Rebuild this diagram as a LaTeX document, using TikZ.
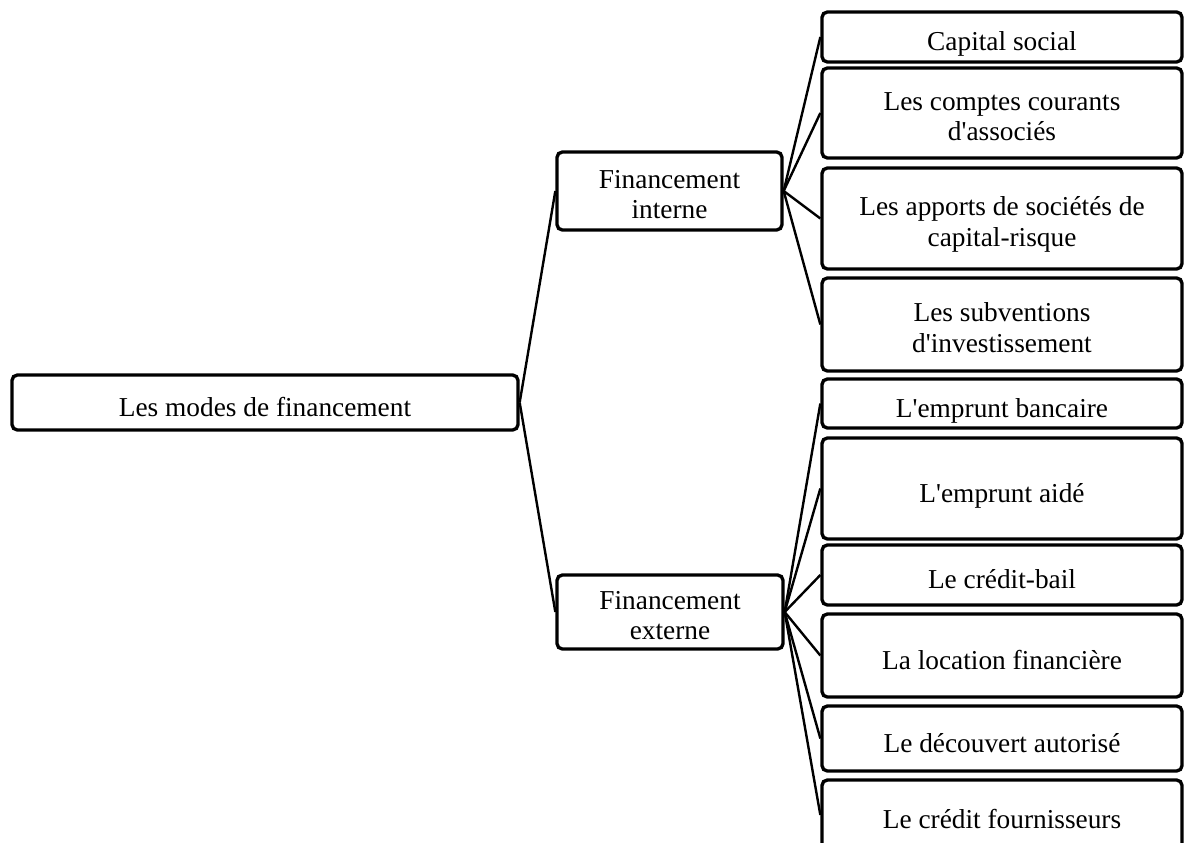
\documentclass[tikz,border=0pt]{standalone}
\usepackage{fontspec}
\setmainfont{Liberation Serif}
\begin{document}
\begin{tikzpicture}[x=0.75pt,y=-0.75pt,
  box/.style={draw, fill=white, line width=2.5pt, rounded corners=4pt,
    inner sep=0pt, align=center, font=\fontsize{20.5}{23}\selectfont,
    text height=21.4pt, text depth=1.1pt},
  twoline/.style={text height=43pt},
  leaf/.style={box, minimum width=270pt},
  link/.style={line width=1.8pt}]
\useasboundingbox (0,0) rectangle (1187,842);
\fill[white] (0,0) rectangle (1187,842);
\clip (0,0) rectangle (1187,842);

% root and the two branches
\node[box, minimum width=379.5pt, minimum height=41.25pt] (root) at (265,402.5) {Les modes de financement};
\node[box, twoline, minimum width=168.75pt, minimum height=58.5pt] (int) at (669.5,191) {Financement\\interne};
\node[box, twoline, minimum width=169.5pt, minimum height=55.5pt] (ext) at (670,612) {Financement\\externe};

% internal financing
\node[leaf, minimum height=37.5pt]  (cap)  at (1002,37)    {Capital social};
\node[leaf, twoline, minimum height=67.5pt]  (cca)  at (1002,113)   {Les comptes courants\\d\textquotesingle associés};
\node[leaf, twoline, minimum height=75.75pt] (scr)  at (1002,218.5) {Les apports de sociétés de\\capital-risque};
\node[leaf, twoline, minimum height=69.75pt] (sub)  at (1002,324.5) {Les subventions\\d\textquotesingle investissement};

% external financing
\node[leaf, minimum height=36.75pt] (emb)  at (1002,403.5) {L\textquotesingle emprunt bancaire};
\node[leaf, minimum height=75.75pt] (ema)  at (1002,488.5) {L\textquotesingle emprunt aidé};
\node[leaf, minimum height=45pt]    (cb)   at (1002,575)   {Le crédit-bail};
\node[leaf, minimum height=62.25pt] (loc)  at (1002,655.5) {La location financière};
\node[leaf, minimum height=48.75pt] (dec)  at (1002,738.5) {Le découvert autorisé};
\node[leaf, minimum height=52.5pt]  (four) at (1002,815)   {Le crédit fournisseurs};

% connectors
\draw[link] (root.east) -- (int.west);
\draw[link] (root.east) -- (ext.west);
\foreach \c in {cap,cca,scr,sub}
  \draw[link] (int.east) -- (\c.west);
\foreach \c in {emb,ema,cb,loc,dec,four}
  \draw[link] (ext.east) -- (\c.west);
\end{tikzpicture}
\end{document}
